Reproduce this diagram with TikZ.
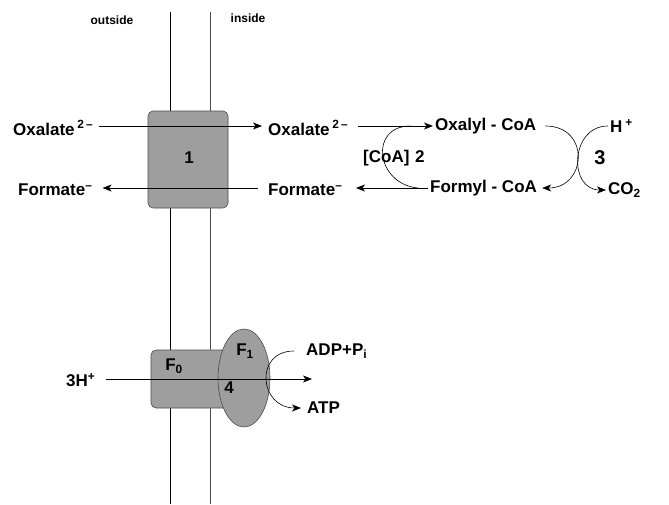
\documentclass[tikz,border=0pt]{standalone}
\usepackage{fontspec}
\setmainfont{Liberation Sans}
\usetikzlibrary{arrows.meta,positioning}

\tikzset{
    lbl/.style={font=\bfseries\fontsize{17}{20}\selectfont, inner sep=2pt},
    side/.style={font=\bfseries\fontsize{12}{14}\selectfont, inner sep=0pt},
    num/.style={font=\bfseries\fontsize{17}{20}\selectfont, inner sep=0pt},
    flow/.style={-{Stealth[length=9pt,width=7pt,inset=2.5pt]}, line width=0.8pt},
    turn/.style={line width=0.6pt},
    carrier/.style={draw=black!70, fill=black!38, rounded corners=5pt, line width=0.6pt},
}

\begin{document}
\begin{tikzpicture}[x=1pt, y=-1pt]
    \useasboundingbox (0,0) rectangle (669,504);
    % membrane
    \draw[line width=0.7pt] (170,12) -- (170,504);
    \draw[line width=0.7pt, black!70] (210,12) -- (210,504);
    \node[side] (outside) at (112,20) {outside};
    \node[side] (inside) at (248,18) {inside};

    % transporter 1
    \draw[carrier] (148,111) rectangle (228,208);
    \node[num] (t1) at (189,158) {1};

    \node[lbl, anchor=west] (oxL) at (11,128) {Oxalate\,\textsuperscript{2\,--}};
    \node[lbl, anchor=west] (oxR) at (266,128) {Oxalate\,\textsuperscript{2\,--}};
    \node[lbl, anchor=west] (oxyl) at (433,126) {Oxalyl - CoA};
    \node[lbl, anchor=west] (fmL) at (16,190) {Formate\textsuperscript{--}};
    \node[lbl, anchor=west] (fmR) at (266,190) {Formate\textsuperscript{--}};
    \node[lbl, anchor=west] (fmyl) at (428,188) {Formyl - CoA};
    \node[lbl, anchor=west] (coa) at (361,158) {[CoA]\,\,2};
    \node[lbl, anchor=west] (hp) at (608,126) {H\,\textsuperscript{+}};
    \node[lbl, anchor=west] (co2) at (606,190) {CO$_{\mathbf 2}$};
    \node[font=\bfseries\fontsize{20}{24}\selectfont, inner sep=0pt] (t3) at (600,158) {3};

    \draw[flow] ([xshift=4pt]oxL.east |- 0,126) -- (262,126);
    \draw[flow] (258,188) -- ([xshift=8pt]fmL.east |- 0,188);
    \draw[flow] (358,126) -- coordinate[pos=0.7] (coaIn) (oxyl.west |- 0,126);
    \draw[flow] (fmyl.west |- 0,188) -- coordinate[pos=0.14] (coaOut) (356,188);

    % step 2 and step 3
    \draw[turn] (coaOut) .. controls +(-42,-4) and +(-42,0) .. (coaIn);
    \draw[flow, turn] ([xshift=7pt]oxyl.east) .. controls +(45,0) and +(45,0) .. ([xshift=3pt]fmyl.east);
    \draw[flow, turn] (hp.west) .. controls +(-38,0) and +(-38,0) .. (co2.west);

    % ATP synthase 4
    \draw[carrier] (151,350) rectangle (240,408);
    \draw[carrier, rounded corners=0pt] (244,378) ellipse [x radius=26, y radius=49];
    \node[num] (f0) at (174,366) {F\textsubscript{0}};
    \node[num] (f1) at (245,351) {F\textsubscript{1}};
    \node[num] (t4) at (229,388) {4};

    \node[lbl, anchor=west] (hh) at (64,380) {3H\textsuperscript{+}};
    \node[lbl, anchor=west] (adp) at (304,351) {ADP+P\textsubscript{i}};
    \node[lbl, anchor=west] (atp) at (305,408) {ATP};
    \coordinate (hIn) at (312,379);
    \draw[flow] ([xshift=8pt]hh.east |- 0,379) -- (hIn);
    \draw[flow, turn] ([xshift=-10pt]adp.west) .. controls +(-40,0) and +(-42,0) .. ([xshift=-4pt]atp.west);
\end{tikzpicture}
\end{document}
